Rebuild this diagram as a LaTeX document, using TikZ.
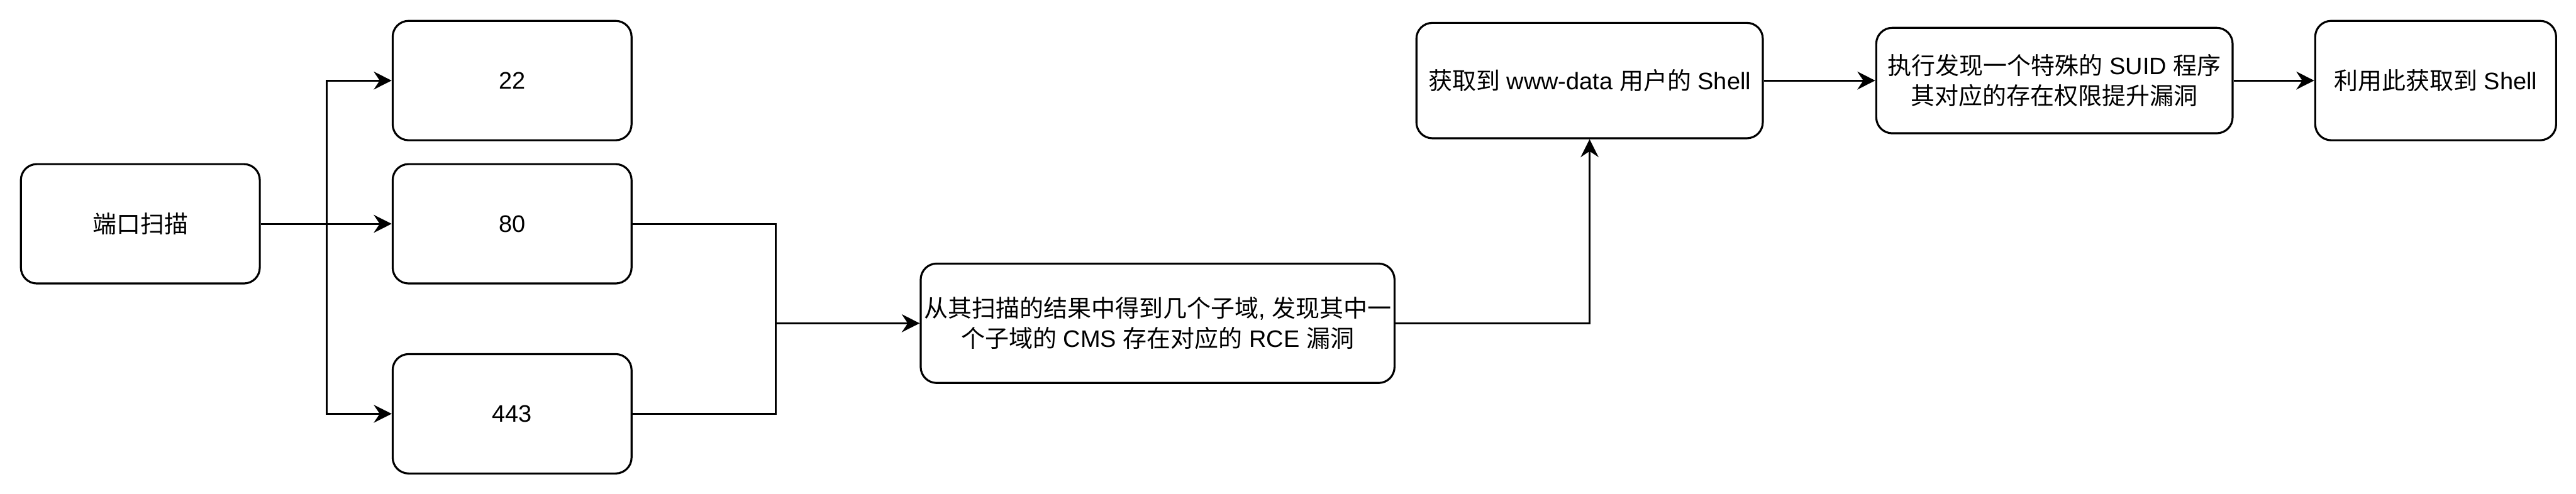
\documentclass[tikz,border=0pt]{standalone}
\usepackage{fontspec}
\setmainfont{Liberation Sans}
\newfontfamily\cjk{Noto Sans CJK SC}
\newcommand{\zh}[1]{{\cjk #1}}
\usetikzlibrary{arrows.meta}

\begin{document}
\begin{tikzpicture}[x=1pt, y=1pt,
  box/.style={draw, line width=1pt, rounded corners=8pt, minimum height=60pt, inner sep=0pt, align=center, font=\fontsize{12}{15}\selectfont},
  arr/.style={line width=1pt, -{Stealth[length=9pt, width=9pt, inset=3pt]}}]
\useasboundingbox (0,0) rectangle (1294,248);

\node[box, minimum width=120pt] (scan) at (70.5,135.5) {\zh{端口扫描}};
\node[box, minimum width=120pt] (p22) at (257.25,207.5) {22};
\node[box, minimum width=120pt] (p80) at (257.25,135.5) {80};
\node[box, minimum width=120pt] (p443) at (257.25,40) {443};
\node[box, minimum width=238pt] (sub) at (581.5,85.5) {\zh{从其扫描的结果中得到几个子域}, \zh{发现其中一}\\\zh{个子域的} CMS \zh{存在对应的} RCE \zh{漏洞}};
\node[box, minimum width=174pt, minimum height=58pt] (www) at (798.5,207.5) {\zh{获取到} www-data \zh{用户的} Shell};
\node[box, minimum width=179pt, minimum height=53pt] (suid) at (1032,207.5) {\zh{执行发现一个特殊的} SUID \zh{程序}\\\zh{其对应的存在权限提升漏洞}};
\node[box, minimum width=121pt] (shell) at (1223.5,207.5) {\zh{利用此获取到} Shell};

% ports
\coordinate (fork) at (164,135.5);
\draw[arr] (scan) -- (p80);
\draw[arr] (fork) |- (p22);
\draw[arr] (fork) |- (p443);

% web ports merge
\coordinate (join) at (389.75,85.5);
\draw[line width=1pt] (p80) -| (join);
\draw[line width=1pt] (p443) -| (join);
\draw[arr] (join) -- (sub);

\draw[arr] (sub) -| (www);
\draw[arr] (www) -- (suid);
\draw[arr] (suid) -- (shell);
\end{tikzpicture}
\end{document}
